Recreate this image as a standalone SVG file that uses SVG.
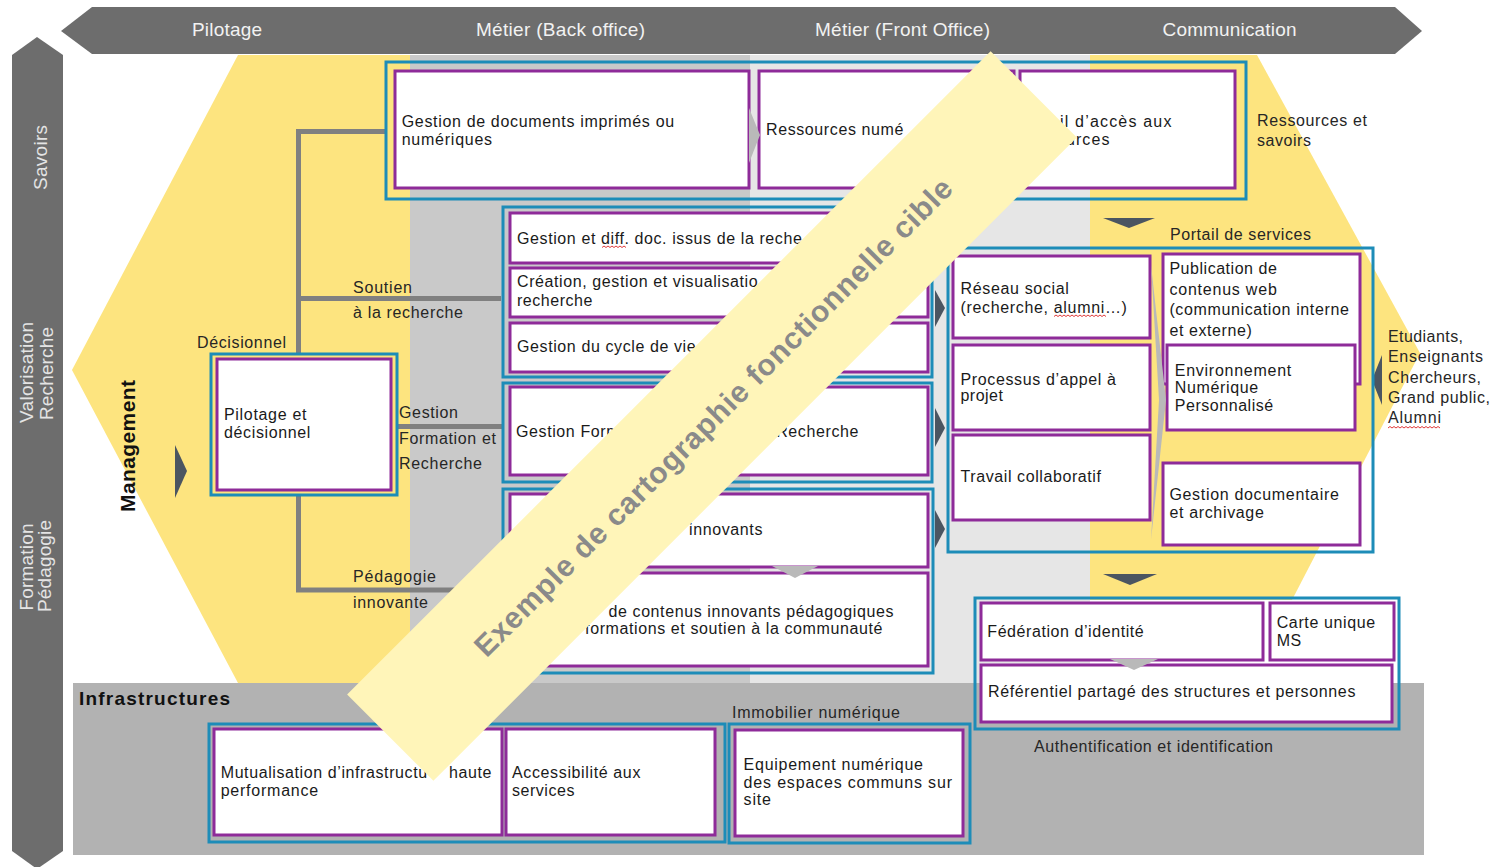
<svg xmlns="http://www.w3.org/2000/svg" width="1492" height="867" viewBox="0 0 1492 867">
<style>
text{font-family:"Liberation Sans",Arial,sans-serif}
.hdr{font-size:19px;fill:#f2f2f2;text-anchor:middle}
.side{font-size:19px;fill:#e4e4e4;text-anchor:middle}
.t{font-size:16px;fill:#1a1a1a;letter-spacing:0.6px}
.lbl{font-size:16px;fill:#262626}
.end{text-anchor:end}
.outer{fill:none;stroke:#1d8cb8;stroke-width:3}
.inner{fill:#fff;stroke:#8e2b99;stroke-width:3}
.conn{stroke:#808080;stroke-width:5;fill:none}
.dark{fill:#4b5561}
.light{fill:#b9b9b9}
.wavy{fill:none;stroke:#e03a3a;stroke-width:1}
</style>
<g id="background">
<rect x="0" y="0" width="1492" height="867" fill="#fff"/>
<rect x="410" y="55" width="340" height="628" fill="#c9c9c9"/>
<rect x="750" y="55" width="340" height="628" fill="#e6e6e6"/>
<polygon points="238,55 410,55 410,683 238,683 72,370" fill="#fde47f"/>
<polygon points="1090,55 1257,55 1420,353 1292,600 1090,600" fill="#fde47f"/>
<rect x="73" y="683" width="1351" height="172" fill="#b2b2b2"/>
<polygon points="61,31 92,7 1395,7 1422,31 1395,54 92,54" fill="#6d6d6d"/>
<polygon points="12,55 37,37 63,55 63,851 37,869 12,851" fill="#6d6d6d"/>
<text class="hdr" x="227" y="36" textLength="70">Pilotage</text>
<text class="hdr" x="560.5" y="36" textLength="169">Métier (Back office)</text>
<text class="hdr" x="902.5" y="36" textLength="175">Métier (Front Office)</text>
<text class="hdr" x="1229.5" y="36" textLength="134">Communication</text>
<text class="side" transform="translate(47,157.5) rotate(-90)" textLength="65">Savoirs</text>
<text class="side" transform="translate(33,372.5) rotate(-90)" textLength="101">Valorisation</text>
<text class="side" transform="translate(53,373.5) rotate(-90)" textLength="93">Recherche</text>
<text class="side" transform="translate(33,567) rotate(-90)" textLength="87">Formation</text>
<text class="side" transform="translate(51,566) rotate(-90)" textLength="92">Pédagogie</text>
<text transform="translate(135,512) rotate(-90)" font-size="21" font-weight="bold" fill="#111" textLength="132">Management</text>
<text x="79" y="705" font-size="19" font-weight="bold" fill="#111" textLength="151">Infrastructures</text>
</g>
<g id="connectors">
<polyline class="conn" points="386,131.5 298.5,131.5 298.5,354"/>
<line class="conn" x1="298.5" y1="298.5" x2="501" y2="298.5"/>
<line class="conn" x1="397" y1="426.5" x2="503" y2="426.5"/>
<polyline class="conn" points="298.5,495 298.5,590 503,590"/>
<polygon class="dark" points="175,445 187,471 175,498"/>
<polygon class="dark" points="1103,218 1155,218 1129,228"/>
<polygon class="dark" points="1103,574 1157,574 1130,585"/>
<polygon class="dark" points="935,290 945,308 935,327"/>
<polygon class="dark" points="935,408 945,428 935,447"/>
<polygon class="dark" points="935,510 945,529 935,548"/>
<polygon class="dark" points="1382,355 1372,380 1382,405"/>
</g>
<g id="labels">
<text class="lbl" x="197" y="348" textLength="89">Décisionnel</text>
<text class="lbl" x="353" y="292.7" textLength="59">Soutien</text>
<text class="lbl" x="353" y="318" textLength="110">à la recherche</text>
<text class="lbl" x="399" y="418" textLength="59">Gestion</text>
<text class="lbl" x="399" y="444" textLength="97">Formation et</text>
<text class="lbl" x="399" y="469" textLength="83">Recherche</text>
<text class="lbl" x="353" y="582" textLength="83">Pédagogie</text>
<text class="lbl" x="353" y="608" textLength="75">innovante</text>
<text class="lbl" x="1257" y="126" textLength="110">Ressources et</text>
<text class="lbl" x="1257" y="146" textLength="54">savoirs</text>
<text class="lbl" x="1170" y="240" textLength="141">Portail de services</text>
<text class="lbl" x="1388" y="341.7" textLength="75">Etudiants,</text>
<text class="lbl" x="1388" y="362" textLength="95">Enseignants</text>
<text class="lbl" x="1388" y="382.7" textLength="93">Chercheurs,</text>
<text class="lbl" x="1388" y="402.7" textLength="102">Grand public,</text>
<text class="lbl" x="1388" y="423" textLength="53">Alumni</text>
<path class="wavy" d="M1388,428 l2,-1.5 l2,1.5 l2,-1.5 l2,1.5 l2,-1.5 l2,1.5 l2,-1.5 l2,1.5 l2,-1.5 l2,1.5 l2,-1.5 l2,1.5 l2,-1.5 l2,1.5 l2,-1.5 l2,1.5 l2,-1.5 l2,1.5 l2,-1.5 l2,1.5 l2,-1.5 l2,1.5 l2,-1.5 l2,1.5 l2,-1.5 l2,1.5"/>
<text class="lbl" x="1034" y="751.7" textLength="239">Authentification et identification</text>
<text class="lbl" x="732" y="718" textLength="168">Immobilier numérique</text>
</g>
<g id="node-savoirs">
<rect class="outer" x="386" y="62" width="860" height="137"/>
<rect class="inner" x="395" y="71" width="354" height="117"/>
<rect class="inner" x="759" y="71" width="255" height="117"/>
<rect class="inner" x="1020" y="71" width="215" height="117"/>
<polygon class="light" points="749,108 760,135 749,163"/>
<text class="t" x="401.7" y="127" textLength="273">Gestion de documents imprimés ou</text>
<text class="t" x="401.7" y="145" textLength="91">numériques</text>
<text class="t" x="766" y="135">Ressources numé</text>
<text class="t" x="1060" y="126.7" textLength="112">il d’accès aux</text>
<text class="t" x="1066" y="145" textLength="44">urces</text>
</g>
<g id="node-recherche">
<rect class="outer" x="503" y="207" width="429" height="170"/>
<rect class="inner" x="510" y="213" width="418" height="50"/>
<rect class="inner" x="510" y="268" width="418" height="49"/>
<rect class="inner" x="510" y="323" width="418" height="49"/>
<text class="t" x="517" y="244">Gestion et diff. doc. issus de la reche</text>
<path class="wavy" d="M602,247.5 l2,-1.5 l2,1.5 l2,-1.5 l2,1.5 l2,-1.5 l2,1.5 l2,-1.5 l2,1.5 l2,-1.5 l2,1.5 l2,-1.5 l2,1.5"/>
<text class="t" x="517" y="287">Création, gestion et visualisatio</text>
<text class="t" x="517" y="306" textLength="76">recherche</text>
<text class="t" x="517" y="351.7">Gestion du cycle de vie</text>
</g>
<g id="node-formation">
<rect class="outer" x="503" y="383" width="429" height="99"/>
<rect class="inner" x="510" y="387" width="418" height="88"/>
<text class="t" x="516" y="436.7">Gestion Form</text>
<text class="t end" x="859" y="436.7">Recherche</text>
</g>
<g id="node-pedagogie">
<rect class="outer" x="503" y="489" width="430" height="184"/>
<rect class="inner" x="510" y="494" width="418" height="73"/>
<rect class="inner" x="510" y="573" width="418" height="93"/>
<polygon class="light" points="772,566 818,566 795,578"/>
<text class="t end" x="763" y="535">innovants</text>
<text class="t end" x="894" y="616.7">de contenus innovants pédagogiques</text>
<text class="t end" x="883" y="634">formations et soutien à la communauté</text>
</g>
<g id="node-pilotage">
<rect class="outer" x="211" y="354" width="186" height="141"/>
<rect class="inner" x="217" y="359" width="174" height="131"/>
<text class="t" x="224" y="420" textLength="83">Pilotage et</text>
<text class="t" x="224" y="438" textLength="87">décisionnel</text>
</g>
<g id="node-portail">
<rect class="outer" x="948" y="248" width="425" height="304"/>
<rect class="inner" x="953" y="256" width="197" height="82"/>
<rect class="inner" x="953" y="345" width="197" height="85"/>
<rect class="inner" x="953" y="435" width="197" height="85"/>
<rect class="inner" x="1163" y="254" width="197" height="130"/>
<rect class="inner" x="1167" y="345" width="188" height="85"/>
<rect class="inner" x="1163" y="463" width="197" height="82"/>
<polygon class="light" points="1151,265 1166,400 1151,540 1159,400"/>
<text class="t" x="960.5" y="294" textLength="109">Réseau social</text>
<text class="t" x="960.5" y="313" textLength="167">(recherche, alumni…)</text>
<path class="wavy" d="M1054,316.5 l2,-1.5 l2,1.5 l2,-1.5 l2,1.5 l2,-1.5 l2,1.5 l2,-1.5 l2,1.5 l2,-1.5 l2,1.5 l2,-1.5 l2,1.5 l2,-1.5 l2,1.5 l2,-1.5 l2,1.5 l2,-1.5 l2,1.5 l2,-1.5 l2,1.5 l2,-1.5 l2,1.5 l2,-1.5 l2,1.5 l2,-1.5 l2,1.5"/>
<text class="t" x="960.5" y="385" textLength="156">Processus d’appel à</text>
<text class="t" x="960.5" y="401" textLength="43">projet</text>
<text class="t" x="960.5" y="481.7" textLength="141">Travail collaboratif</text>
<text class="t" x="1169.4" y="274" textLength="108">Publication de</text>
<text class="t" x="1169.4" y="295" textLength="108">contenus web</text>
<text class="t" x="1169.4" y="315" textLength="180">(communication interne</text>
<text class="t" x="1169.4" y="336" textLength="83">et externe)</text>
<text class="t" x="1174.8" y="376" textLength="117">Environnement</text>
<text class="t" x="1174.8" y="393" textLength="84">Numérique</text>
<text class="t" x="1174.8" y="410.7" textLength="99">Personnalisé</text>
<text class="t" x="1169.4" y="500" textLength="170">Gestion documentaire</text>
<text class="t" x="1169.4" y="518" textLength="95">et archivage</text>
</g>
<g id="node-authentification">
<rect class="outer" x="975" y="598" width="424" height="131"/>
<rect class="inner" x="981" y="603" width="282" height="57"/>
<rect class="inner" x="1270" y="603" width="124" height="57"/>
<rect class="inner" x="981" y="665" width="411" height="57"/>
<polygon class="light" points="1110,659 1158,659 1134,670"/>
<text class="t" x="987.3" y="636.7" textLength="157">Fédération d’identité</text>
<text class="t" x="1276.7" y="628" textLength="99">Carte unique</text>
<text class="t" x="1276.7" y="646" textLength="25">MS</text>
<text class="t" x="988" y="697.3" textLength="368">Référentiel partagé des structures et personnes</text>
</g>
<g id="node-infrastructures">
<rect class="outer" x="209" y="724" width="516" height="118"/>
<rect class="inner" x="214" y="729" width="288" height="106"/>
<rect class="inner" x="506" y="729" width="209" height="106"/>
<text class="t" x="220.7" y="778.3" textLength="207">Mutualisation d’infrastructu</text>
<text class="t end" x="492" y="778.3">haute</text>
<text class="t" x="220.7" y="796" textLength="98">performance</text>
<text class="t" x="512" y="778.3" textLength="129">Accessibilité aux</text>
<text class="t" x="512" y="796" textLength="63">services</text>
</g>
<g id="node-immobilier">
<rect class="outer" x="729" y="724" width="241" height="119"/>
<rect class="inner" x="735" y="730" width="228" height="106"/>
<text class="t" x="743.6" y="770" textLength="180">Equipement numérique</text>
<text class="t" x="743.6" y="788" textLength="209">des espaces communs sur</text>
<text class="t" x="743.6" y="805" textLength="28">site</text>
</g>
<g id="watermark" transform="translate(712,416) rotate(-45)">
<rect x="-455" y="-61" width="910" height="122" fill="#fff5b9"/>
<text x="0" y="12" font-size="30" font-weight="bold" fill="#8a8a8a" text-anchor="middle" textLength="662">Exemple de cartographie fonctionnelle cible</text>
</g>
</svg>
